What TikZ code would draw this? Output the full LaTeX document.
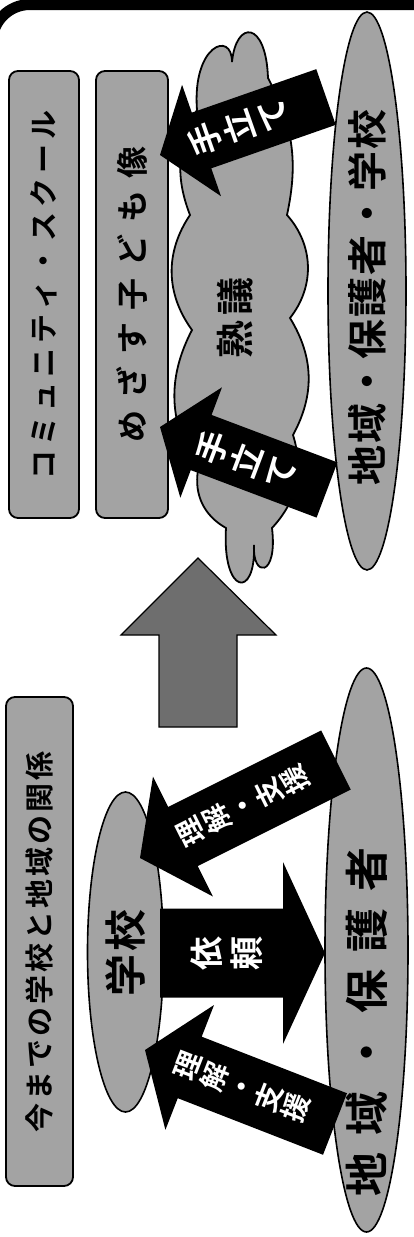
\documentclass[tikz,border=0pt]{standalone}
\usepackage{fontspec}
\newfontfamily\jp{Noto Sans CJK JP}[BoldFont={Noto Sans CJK JP Bold}]
\usetikzlibrary{shapes.geometric,calc}
\definecolor{lgray}{HTML}{A3A3A3}
\definecolor{dgray}{HTML}{6E6E6E}
\makeatletter
\newcommand\spread[2]{\@tfor\sp@c:=#2\do{\makebox[#1]{\sp@c}}}
\makeatother
\newcommand\fs[1]{\fontsize{#1}{#1}\selectfont}
% #1 style, #2 tail, #3 tip, #4 half shaft, #5 half head, #6 head length
\newcommand\blockarrow[6]{%
  \coordinate (ba-h) at ($(#3)!#6!(#2)$);
  \fill[#1] ($(#2)!#4!90:(#3)$) -- ($(ba-h)!#4!90:(#3)$) -- ($(ba-h)!#5!90:(#3)$) -- (#3)
    -- ($(ba-h)!#5!-90:(#3)$) -- ($(ba-h)!#4!-90:(#3)$) -- ($(#2)!#4!-90:(#3)$) -- cycle;}
\tikzset{
  panel/.style={draw=black, line width=1.8, fill=lgray, rounded corners=9, inner sep=0, font=\jp\bfseries},
  oval/.style={ellipse, draw=black, line width=1.6, fill=lgray, inner sep=0},
  lbl/.style={rotate=90, inner sep=0, font=\jp\bfseries},
  arrtxt/.style={text=white, align=center, inner sep=0},
}
\begin{document}
\begin{tikzpicture}[x=1pt,y=1pt]
\useasboundingbox (0,0) rectangle (414,-1237);
\begin{scope}
  \clip (0,0) rectangle (414,-1237);
  \draw[line width=11, rounded corners=38] (-8,-1300) -- (-8,-4.5) -- (440,-4.5);
\end{scope}

% title boxes
\node[panel, rotate=90, minimum width=447, minimum height=70] (cs) at (44,-294.5) {\fs{29}\spread{34pt}{コミュニティ・スクール}};
\node[panel, rotate=90, minimum width=447, minimum height=72] (goal) at (132,-294.5) {\fs{32}\spread{44pt}{めざす子ども像}};
\node[panel, rotate=90, minimum width=489, minimum height=67] (old) at (39.5,-941.5) {\fs{29}\spread{32pt}{今までの学校と地域の関係}};

% big transition arrow
\draw[fill=dgray, line width=1.2] (198,-558) -- (276,-635) -- (237,-635) -- (237,-727) -- (159,-727) -- (159,-635) -- (121,-635) -- cycle;

% cloud
\draw[line width=1.8, fill=lgray]
  (197,-110) .. controls (192,-45) and (232,-30) .. (232,-62)
  .. controls (236,-20) and (266,-20) .. (268,-78)
  to[bend left=20] (287,-215)
  to[bend left=40] (290,-318)
  to[bend left=30] (293,-435)
  to[bend left=30] (272,-528)
  .. controls (278,-578) and (252,-578) .. (254,-545)
  .. controls (256,-600) and (222,-595) .. (226,-528)
  to[bend left=35] (198,-470)
  to[bend left=30] (192,-330)
  to[bend left=35] (190,-215)
  to[bend left=25] (197,-110) -- cycle;
\node[lbl] (jukugi) at (235,-318) {\fs{38}\spread{43pt}{熟議}};

% ellipses
\node[oval, minimum width=78, minimum height=558] (e1) at (367,-291) {};
\node[lbl] (e1t) at (367,-297) {\fs{40}\spread{42pt}{地域・保護者・学校}};
\node[oval, minimum width=83, minimum height=564] (e2) at (366.5,-950) {};
\node[lbl] (e2t) at (367,-1022) {\fs{44}\spread{61pt}{地域・保護者}};
\node[oval, minimum width=76, minimum height=320] (school) at (125.5,-952) {};
\node[lbl] (schoolt) at (125,-953) {\fs{42}\spread{45pt}{学校}};

% arrow end points
\coordinate (T1) at (326,-97);  \coordinate (P1) at (160,-155);
\coordinate (T2) at (327,-490); \coordinate (P2) at (160,-427);
\coordinate (T3) at (336,-760); \coordinate (P3) at (140,-858);
\coordinate (T4) at (335,-1124);\coordinate (P4) at (145,-1050);
\coordinate (T5) at (160,-953); \coordinate (P5) at (325,-953);

\blockarrow{black}{T1}{P1}{29.5pt}{59pt}{44pt}
\blockarrow{black}{T2}{P2}{29.5pt}{59pt}{44pt}
\blockarrow{black}{T3}{P3}{33pt}{67pt}{48pt}
\blockarrow{black}{T4}{P4}{33pt}{67pt}{48pt}
\blockarrow{black}{T5}{P5}{44.5pt}{91pt}{42pt}

\node[arrtxt, rotate=109.3, font={\jp\bfseries\fontsize{33}{36}\selectfont}] at (238,-127) {手\\立\\て};
\node[arrtxt, rotate=69.3, font={\jp\bfseries\fontsize{33}{36}\selectfont}] at (246,-460) {手\\立\\て};
\node[arrtxt, rotate=116.6, font={\jp\bfseries\fontsize{28}{29}\selectfont}] at (243,-805) {理\\解\\・\\支\\援};
\node[arrtxt, rotate=68.7, font={\jp\bfseries\fontsize{28}{29}\selectfont}] at (242,-1087) {理\\解\\・\\支\\援};
\node[arrtxt, rotate=90, font={\jp\bfseries\fontsize{34}{40}\selectfont}] at (227,-953) {依\\頼};
\end{tikzpicture}
\end{document}
